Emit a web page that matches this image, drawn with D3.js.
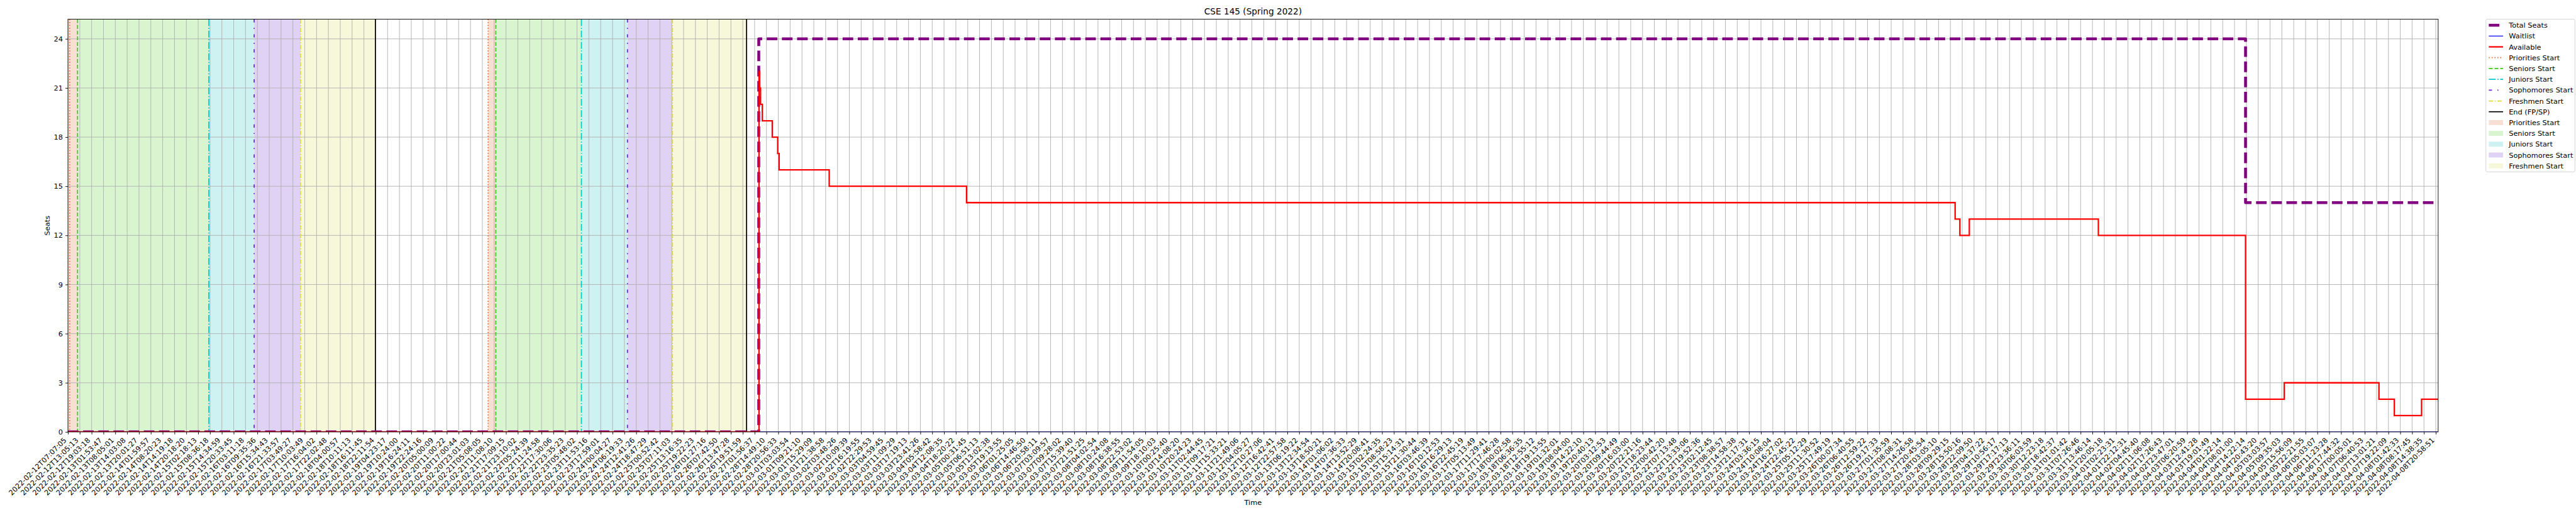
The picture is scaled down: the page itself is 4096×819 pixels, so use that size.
<!DOCTYPE html>
<html><head><meta charset="utf-8">
<script src="https://cdn.jsdelivr.net/npm/d3@7/dist/d3.min.js"></script>
<style>html,body{margin:0;padding:0;background:#fff;overflow:hidden}svg{display:block}text{font-family:"DejaVu Sans",sans-serif}</style>
</head><body><svg id="c"></svg>
<script>
// ---------- DATA ----------
const title = "CSE 145 (Spring 2022)";
const tickLabels = [
"2022-02-12T07:07:05","2022-02-12T13:05:13","2022-02-12T19:03:18","2022-02-13T01:53:47","2022-02-13T08:05:01",
"2022-02-13T14:03:08","2022-02-13T20:01:27","2022-02-14T01:59:57","2022-02-14T08:20:23","2022-02-14T14:19:18",
"2022-02-14T20:18:20","2022-02-15T02:18:13","2022-02-15T08:36:18","2022-02-15T14:34:59","2022-02-15T20:33:45",
"2022-02-16T03:11:18","2022-02-16T09:35:36","2022-02-16T15:34:43","2022-02-16T21:33:57","2022-02-17T03:49:27",
"2022-02-17T10:03:49","2022-02-17T16:04:02","2022-02-17T22:02:48","2022-02-18T04:00:57","2022-02-18T10:11:13",
"2022-02-18T16:11:45","2022-02-18T22:11:54","2022-02-19T04:23:17","2022-02-19T10:24:00","2022-02-19T16:24:11",
"2022-02-19T22:24:16","2022-02-20T05:00:09","2022-02-20T11:00:22","2022-02-20T17:00:44","2022-02-20T23:01:03",
"2022-02-21T05:08:05","2022-02-21T11:08:10","2022-02-21T17:09:15","2022-02-21T23:10:02","2022-02-22T05:24:39",
"2022-02-22T11:24:58","2022-02-22T17:30:06","2022-02-22T23:35:23","2022-02-23T05:48:02","2022-02-23T11:53:16",
"2022-02-23T17:59:01","2022-02-24T00:04:27","2022-02-24T06:19:33","2022-02-24T12:41:26","2022-02-24T18:47:29",
"2022-02-25T00:52:42","2022-02-25T07:11:03","2022-02-25T13:16:35","2022-02-25T19:22:23","2022-02-26T01:27:16",
"2022-02-26T07:42:50","2022-02-26T13:47:28","2022-02-26T19:51:59","2022-02-27T01:56:37","2022-02-28T14:49:10",
"2022-02-28T20:56:33","2022-03-01T03:03:54","2022-03-01T09:21:10","2022-03-01T15:29:09","2022-03-01T21:38:58",
"2022-03-02T03:48:26","2022-03-02T10:09:39","2022-03-02T16:19:55","2022-03-02T22:29:53","2022-03-03T04:59:45",
"2022-03-03T11:09:29","2022-03-03T17:19:13","2022-03-03T23:41:26","2022-03-04T05:58:42","2022-03-04T12:08:35",
"2022-03-04T18:20:22","2022-03-05T00:31:45","2022-03-05T06:51:13","2022-03-05T13:02:38","2022-03-05T19:13:55",
"2022-03-06T01:25:05","2022-03-06T14:46:50","2022-03-06T20:58:11","2022-03-07T03:09:57","2022-03-07T09:28:02",
"2022-03-07T15:39:40","2022-03-07T21:51:25","2022-03-08T04:02:54","2022-03-08T10:24:08","2022-03-08T16:38:55",
"2022-03-08T22:53:02","2022-03-09T11:54:05","2022-03-09T18:10:03","2022-03-10T00:25:40","2022-03-10T14:08:20",
"2022-03-10T20:24:23","2022-03-11T02:44:45","2022-03-11T09:17:21","2022-03-11T15:33:21","2022-03-11T21:49:06",
"2022-03-12T04:05:27","2022-03-12T10:27:06","2022-03-12T16:42:41","2022-03-12T22:57:58","2022-03-13T06:19:22",
"2022-03-13T12:34:54","2022-03-13T18:50:21","2022-03-14T01:06:02","2022-03-14T07:36:33","2022-03-14T13:52:29",
"2022-03-14T20:08:41","2022-03-15T02:24:35","2022-03-15T08:58:23","2022-03-15T15:14:31","2022-03-15T21:30:44",
"2022-03-16T03:46:39","2022-03-16T10:12:53","2022-03-16T16:29:13","2022-03-16T22:45:19","2022-03-17T05:13:49",
"2022-03-17T11:29:41","2022-03-17T17:46:28","2022-03-18T00:02:58","2022-03-18T06:36:35","2022-03-18T12:55:12",
"2022-03-18T19:13:55","2022-03-19T01:32:01","2022-03-19T08:04:00","2022-03-19T14:22:10","2022-03-19T20:40:13",
"2022-03-20T03:12:53","2022-03-20T09:44:49","2022-03-20T16:03:00","2022-03-20T22:21:16","2022-03-21T18:23:44",
"2022-03-22T00:42:20","2022-03-22T07:13:48","2022-03-22T13:33:06","2022-03-22T19:52:36","2022-03-23T02:12:45",
"2022-03-23T08:38:57","2022-03-23T14:58:38","2022-03-23T21:17:31","2022-03-24T03:36:15","2022-03-24T10:08:04",
"2022-03-24T16:27:02","2022-03-24T22:45:22","2022-03-25T05:12:29","2022-03-25T11:30:52","2022-03-25T17:49:19",
"2022-03-26T00:07:34","2022-03-26T06:40:55","2022-03-26T12:59:22","2022-03-26T19:17:33","2022-03-27T01:35:59",
"2022-03-27T08:08:31","2022-03-27T14:26:58","2022-03-27T20:45:54","2022-03-28T03:05:10","2022-03-28T09:29:15",
"2022-03-28T15:50:16","2022-03-28T22:09:50","2022-03-29T04:37:22","2022-03-29T10:56:17","2022-03-29T17:17:13",
"2022-03-29T23:36:11","2022-03-30T06:03:59","2022-03-30T12:23:18","2022-03-30T18:42:37","2022-03-31T01:01:42",
"2022-03-31T07:26:46","2022-03-31T13:46:14","2022-03-31T20:05:18","2022-04-01T02:23:31","2022-04-01T22:12:31",
"2022-04-02T04:45:40","2022-04-02T11:06:08","2022-04-02T17:26:43","2022-04-02T23:47:01","2022-04-03T06:20:59",
"2022-04-03T12:41:28","2022-04-03T19:01:49","2022-04-04T01:22:14","2022-04-04T08:01:00","2022-04-04T14:22:14",
"2022-04-04T20:43:20","2022-04-05T03:03:57","2022-04-05T09:35:03","2022-04-05T15:56:09","2022-04-05T22:21:55",
"2022-04-06T05:03:07","2022-04-06T11:23:28","2022-04-06T17:44:32","2022-04-07T00:05:01","2022-04-07T06:40:53",
"2022-04-07T13:01:21","2022-04-07T19:22:09","2022-04-08T01:42:33","2022-04-08T08:17:45","2022-04-08T14:38:35",
"2022-04-08T20:58:51"
];
const xEnd = 200.2;            // last sample position (in tick-index units)
const yTicks = [0,3,6,9,12,15,18,21,24];
const yMax = 25.2;

// step series: [position in tick-index units, seats]
const totalSeats = [[0,0],[58.35,24],[183.93,14],[200.2,14]];
const waitlist   = [[0,0],[200.2,0]];
const available  = [[0,0],[58.37,22],[58.42,21],[58.5,20],[58.65,19],[59.49,18],[59.95,17],[60.07,16],
  [64.3,15],[75.9,14],[159.4,13],[159.8,12],[160.6,13],[171.5,12],[183.93,2],[187.2,3],[195.2,2],[196.5,1],[198.8,2],[200.2,2]];

// registration phase starts (two cycles) in tick-index units
const prioritiesStart = [0.15, 35.49];
const seniorsStart    = [0.81, 36.14];
const juniorsStart    = [11.9, 43.37];
const sophomoresStart = [15.73, 47.26];
const freshmenStart   = [19.65, 51.06];
const endFPSP         = [25.97, 57.32];
const prioritiesShadeFrom = [0, 35.49];

// ---------- LAYOUT / STYLE ----------
const W = 5000, H = 1000;
const L = 131.3, R = 4733, T = 37.3, B = 838.7;
const FS = 13.89, PT = 100/72;
const svg = d3.select("#c").attr("width",4096).attr("height",819).attr("viewBox",`0 0 ${W} ${H}`);
svg.append("rect").attr("width",W).attr("height",H).attr("fill","#fff");

const x = d3.scaleLinear().domain([0, xEnd]).range([L, R]);
const y = d3.scaleLinear().domain([0, yMax]).range([B, T]);

const st = {
  pri: {c:"#f07030", dash:`${1*1.5*PT},${1.65*1.5*PT}`, shade:"#f8dfd4"},
  sen: {c:"#3ccc14", dash:`${3.7*1.5*PT},${1.6*1.5*PT}`, shade:"#d9f5d0"},
  jun: {c:"#00c8cc", dash:`${6.4*1.5*PT},${1.6*1.5*PT},${1*1.5*PT},${1.6*1.5*PT}`, shade:"#cef1f2"},
  sop: {c:"#6a22dc", dash:`${3*1.5*PT},${5*1.5*PT},${1*1.5*PT},${5*1.5*PT}`, shade:"#e0d2f5"},
  fre: {c:"#dede30", dash:`${4*1.5*PT},${1.5*1.5*PT},${1*1.5*PT},${1.5*1.5*PT}`, shade:"#f7f7d9"},
  end: {c:"#000000", dash:null}
};

svg.append("defs").append("clipPath").attr("id","pc").append("rect")
  .attr("x",L).attr("y",T).attr("width",R-L).attr("height",B-T);
const plot = svg.append("g").attr("clip-path","url(#pc)");

// shaded phases
const spans = [];
for (let k=0;k<2;k++){
  spans.push([prioritiesShadeFrom[k], seniorsStart[k], st.pri.shade]);
  spans.push([seniorsStart[k], juniorsStart[k], st.sen.shade]);
  spans.push([juniorsStart[k], sophomoresStart[k], st.jun.shade]);
  spans.push([sophomoresStart[k], freshmenStart[k], st.sop.shade]);
  spans.push([freshmenStart[k], endFPSP[k], st.fre.shade]);
}
plot.selectAll("rect.span").data(spans).join("rect").attr("class","span")
  .attr("x",d=>x(d[0])).attr("width",d=>x(d[1])-x(d[0]))
  .attr("y",T).attr("height",B-T).attr("fill",d=>d[2]);

// grid
const ticksX = d3.range(tickLabels.length);
plot.selectAll("line.gx").data(ticksX).join("line").attr("class","gx")
  .attr("x1",d=>x(d)).attr("x2",d=>x(d)).attr("y1",T).attr("y2",B)
  .attr("stroke","#b0b0b0").attr("stroke-width",0.8*PT);
plot.selectAll("line.gy").data(yTicks).join("line").attr("class","gy")
  .attr("y1",d=>y(d)).attr("y2",d=>y(d)).attr("x1",L).attr("x2",R)
  .attr("stroke","#b0b0b0").attr("stroke-width",0.8*PT);

// event lines
function vlines(arr, s){
  plot.selectAll(null).data(arr).join("line")
    .attr("x1",d=>x(d)).attr("x2",d=>x(d)).attr("y1",T).attr("y2",B)
    .attr("stroke",s.c).attr("stroke-width",1.5*PT)
    .attr("stroke-dasharray",s.dash);
}
vlines(prioritiesStart, st.pri);
vlines(seniorsStart, st.sen);
vlines(juniorsStart, st.jun);
vlines(sophomoresStart, st.sop);
vlines(freshmenStart, st.fre);
vlines(endFPSP, st.end);

// series
const line = d3.line().x(d=>x(d[0])).y(d=>y(d[1])).curve(d3.curveStepAfter);
plot.append("path").datum(totalSeats).attr("d",line).attr("fill","none")
  .attr("stroke","#800080").attr("stroke-width",4*PT).attr("stroke-linejoin","round")
  .attr("stroke-dasharray",`${3.7*4*PT},${1.6*4*PT}`);
plot.append("path").datum(waitlist).attr("d",line).attr("fill","none")
  .attr("stroke","#0000ff").attr("stroke-opacity",0.7).attr("stroke-width",2);
plot.append("path").datum(available).attr("d",line).attr("fill","none")
  .attr("stroke","#ff0000").attr("stroke-width",2*PT);

// axes frame
svg.append("rect").attr("x",L).attr("y",T).attr("width",R-L).attr("height",B-T)
  .attr("fill","none").attr("stroke","#000").attr("stroke-width",0.8*PT);

// x axis
const tl = 3.5*PT;
const xAxis = d3.axisBottom(x).tickValues(ticksX).tickFormat(i=>tickLabels[i])
  .tickSize(tl).tickPadding(tl).tickSizeOuter(0);
const gx = svg.append("g").attr("transform",`translate(0,${B})`).call(xAxis);
gx.select(".domain").remove();
gx.selectAll(".tick line").attr("stroke","#000").attr("stroke-width",0.8*PT);
gx.selectAll(".tick text").attr("font-size",FS).attr("fill","#000")
  .attr("text-anchor","end").attr("x",0).attr("y",0).attr("dy",null)
  .attr("transform",`translate(-2.4,${2*tl+7.4}) rotate(-45)`);

// y axis
const yAxis = d3.axisLeft(y).tickValues(yTicks).tickSize(tl).tickPadding(tl).tickSizeOuter(0);
const gy = svg.append("g").attr("transform",`translate(${L},0)`).call(yAxis);
gy.select(".domain").remove();
gy.selectAll(".tick line").attr("stroke","#000").attr("stroke-width",0.8*PT);
gy.selectAll(".tick text").attr("font-size",FS).attr("fill","#000");

// labels
svg.append("text").attr("x",(L+R)/2).attr("y",28.5).attr("text-anchor","middle")
  .attr("font-size",12*PT).text(title);
svg.append("text").attr("x",(L+R)/2).attr("y",981).attr("text-anchor","middle")
  .attr("font-size",FS).text("Time");
svg.append("text").attr("transform",`translate(96,${(T+B)/2}) rotate(-90)`)
  .attr("text-anchor","middle").attr("font-size",FS).text("Seats");

// legend
const legendItems = [
  {t:"Total Seats", type:"line", c:"#800080", w:4*PT, dash:`${3.7*4*PT},${1.6*4*PT}`},
  {t:"Waitlist", type:"line", c:"#0000ff", w:1.5, dash:null},
  {t:"Available", type:"line", c:"#ff0000", w:2*PT, dash:null},
  {t:"Priorities Start", type:"line", c:st.pri.c, w:1.5*PT, dash:st.pri.dash},
  {t:"Seniors Start", type:"line", c:st.sen.c, w:1.5*PT, dash:st.sen.dash},
  {t:"Juniors Start", type:"line", c:st.jun.c, w:1.5*PT, dash:st.jun.dash},
  {t:"Sophomores Start", type:"line", c:st.sop.c, w:1.5*PT, dash:st.sop.dash},
  {t:"Freshmen Start", type:"line", c:st.fre.c, w:1.5*PT, dash:st.fre.dash},
  {t:"End (FP/SP)", type:"line", c:"#000", w:1.5*PT, dash:null},
  {t:"Priorities Start", type:"patch", c:st.pri.shade},
  {t:"Seniors Start", type:"patch", c:st.sen.shade},
  {t:"Juniors Start", type:"patch", c:st.jun.shade},
  {t:"Sophomores Start", type:"patch", c:st.sop.shade},
  {t:"Freshmen Start", type:"patch", c:st.fre.shade}
];
const LX = 4825.7, LY = 37.3, rowH = 21, firstRow = 49;
const lg = svg.append("g");
lg.append("rect").attr("x",LX).attr("y",LY).attr("width",4998.5-LX)
  .attr("height",(firstRow-LY)*2+rowH*(legendItems.length-1))
  .attr("rx",2.8).attr("fill","#fff").attr("fill-opacity",0.8)
  .attr("stroke","#cccccc").attr("stroke-width",1);
const hx0 = LX+5.6, hx1 = hx0+2*FS;
legendItems.forEach((d,i)=>{
  const cy = firstRow + i*rowH;
  if (d.type==="line"){
    lg.append("line").attr("x1",hx0).attr("x2",hx1).attr("y1",cy).attr("y2",cy)
      .attr("stroke",d.c).attr("stroke-width",d.w).attr("stroke-dasharray",d.dash);
  } else {
    lg.append("rect").attr("x",hx0).attr("y",cy-4.9).attr("width",hx1-hx0).attr("height",9.7)
      .attr("fill",d.c);
  }
  lg.append("text").attr("x",hx1+0.8*FS).attr("y",cy).attr("dy","0.36em")
    .attr("font-size",FS).text(d.t);
});
</script></body></html>
